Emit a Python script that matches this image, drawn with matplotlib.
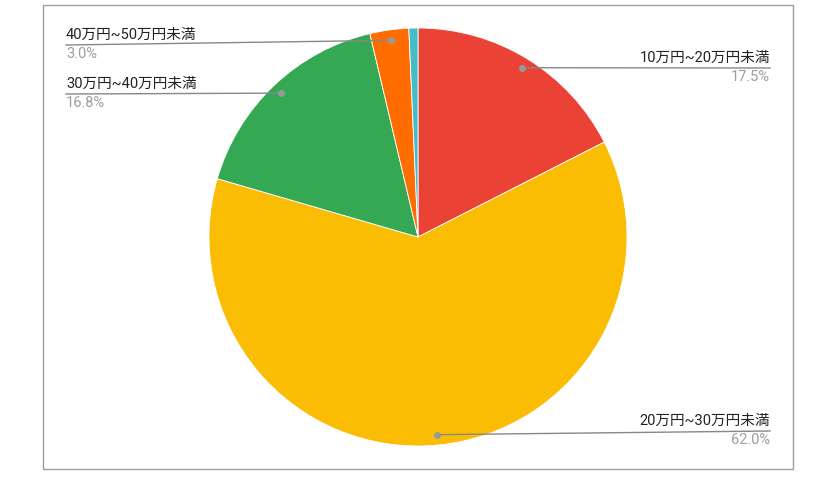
import numpy as np
import matplotlib.pyplot as plt

plt.rcParams['font.family'] = ['Roboto', 'Noto Sans CJK JP', 'DejaVu Sans']

# data
labels = ['10万円~20万円未満', '20万円~30万円未満', '30万円~40万円未満', '40万円~50万円未満', '50万円以上']
values = [17.5, 62.0, 16.8, 3.0, 0.7]
colors = ['#EA4335', '#FBBC04', '#34A853', '#FF6D01', '#46BDC6']

W, H = 840, 499
fig = plt.figure(figsize=(W / 100, H / 100), dpi=100)
ax = fig.add_axes([0, 0, 1, 1])
ax.set_xlim(0, W)
ax.set_ylim(0, H)
ax.set_aspect('equal')
ax.axis('off')

# frame
ax.add_patch(plt.Rectangle((43, H - 469), 750, 464, fill=False, edgecolor='#9e9e9e', lw=1))

cx, cy, r = 418, H - 237, 209
ax.pie(values, colors=colors, startangle=90, counterclock=False,
       center=(cx, cy), radius=r, frame=True,
       wedgeprops=dict(edgecolor='white', linewidth=0.6))
ax.set_xlim(0, W)
ax.set_ylim(0, H)
ax.axis('off')

# label layout: (line end x, line end y, text align)
layout = {
    0: (770, 68, 'right'),
    1: (770, 431, 'right'),
    2: (66, 94, 'left'),
    3: (66, 45, 'left'),
}

total = sum(values)
cum = 0
for i, v in enumerate(values):
    mid = cum + v / 2
    cum += v
    if i not in layout:
        continue
    ang = np.deg2rad(90 - mid / total * 360)
    dx, dy = cx + 0.95 * r * np.cos(ang), cy + 0.95 * r * np.sin(ang)
    ex, ey, ha = layout[i]
    ey = H - ey
    ax.plot([dx, ex], [dy, ey], color='#888888', lw=1, zorder=3)
    ax.plot(dx, dy, 'o', ms=4, color='#999999', zorder=4)
    ax.text(ex, ey + 3, labels[i], ha=ha, va='bottom', fontsize=10.5, color='#222222')
    ax.text(ex, ey - 2, f'{v:.1f}%', ha=ha, va='top', fontsize=10.5, color='#9e9e9e')

fig.savefig('out.png', dpi=100)
